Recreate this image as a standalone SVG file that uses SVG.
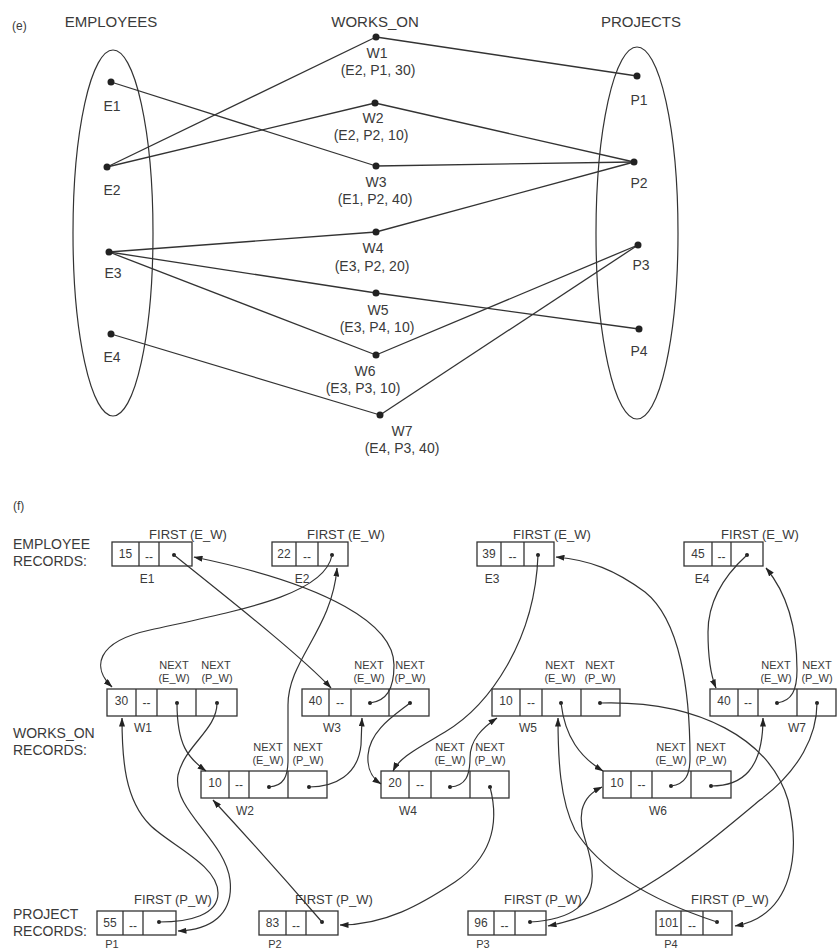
<svg xmlns="http://www.w3.org/2000/svg" width="838" height="949" viewBox="0 0 838 949">
<style>
text{font-family:"Liberation Sans",Arial,sans-serif;fill:#3a3a3a}
.h{font-size:15px}
.l{font-size:14px}
.m{font-size:13px}
.s{font-size:12px}
.x{font-size:11px}
.n{font-size:12px}
.c{text-anchor:middle}
.e{fill:none;stroke:#333;stroke-width:1.2}
.ln{stroke:#333;stroke-width:1.3;fill:none}
.dot{fill:#222}
.box{fill:#fff;stroke:#333;stroke-width:1.3}
.dv{stroke:#333;stroke-width:1.3}
.cn{fill:none;stroke:#333;stroke-width:1.2;marker-end:url(#ah)}
.pd{fill:#222}
</style>
<defs>
<marker id="ah" viewBox="0 0 9 6" refX="8.5" refY="3" markerWidth="9" markerHeight="6" markerUnits="userSpaceOnUse" orient="auto">
<path d="M0,0 L9,3 L0,6 z" fill="#222"/>
</marker>
</defs>
<rect width="838" height="949" fill="#fff"/>

<!-- Part (e) -->
<text x="12" y="30" class="s">(e)</text>
<text x="111" y="27" class="h c">EMPLOYEES</text>
<text x="375" y="27" class="h c">WORKS_ON</text>
<text x="641" y="27" class="h c">PROJECTS</text>
<ellipse cx="113" cy="233" rx="40" ry="183" class="e"/>
<ellipse cx="637" cy="233" rx="41" ry="186" class="e"/>

<g id="e-edges">
<line x1="111" y1="82" x2="376" y2="166" class="ln"/>
<line x1="107" y1="167" x2="376" y2="37" class="ln"/>
<line x1="107" y1="167" x2="375" y2="103" class="ln"/>
<line x1="109" y1="252" x2="376" y2="232" class="ln"/>
<line x1="109" y1="252" x2="376" y2="293" class="ln"/>
<line x1="109" y1="252" x2="376" y2="355" class="ln"/>
<line x1="111" y1="334" x2="380" y2="415" class="ln"/>
<line x1="376" y1="37" x2="637" y2="76" class="ln"/>
<line x1="375" y1="103" x2="634" y2="162" class="ln"/>
<line x1="376" y1="166" x2="634" y2="162" class="ln"/>
<line x1="376" y1="232" x2="634" y2="162" class="ln"/>
<line x1="376" y1="293" x2="639" y2="329" class="ln"/>
<line x1="376" y1="355" x2="638" y2="245" class="ln"/>
<line x1="380" y1="415" x2="638" y2="245" class="ln"/>
</g>

<g id="E1"><circle cx="111" cy="82" r="3.5" class="dot"/><text x="112" y="111" class="l c">E1</text></g>
<g id="E2"><circle cx="107" cy="167" r="3.5" class="dot"/><text x="112" y="195" class="l c">E2</text></g>
<g id="E3"><circle cx="109" cy="252" r="3.5" class="dot"/><text x="113" y="278" class="l c">E3</text></g>
<g id="E4"><circle cx="111" cy="334" r="3.5" class="dot"/><text x="112" y="362" class="l c">E4</text></g>

<g id="W1"><circle cx="376" cy="37" r="3.5" class="dot"/><text x="377" y="58" class="l c">W1</text><text x="378" y="75" class="l c">(E2, P1, 30)</text></g>
<g id="W2"><circle cx="375" cy="103" r="3.5" class="dot"/><text x="373" y="123" class="l c">W2</text><text x="371" y="140" class="l c">(E2, P2, 10)</text></g>
<g id="W3"><circle cx="376" cy="166" r="3.5" class="dot"/><text x="376" y="187" class="l c">W3</text><text x="375" y="204" class="l c">(E1, P2, 40)</text></g>
<g id="W4"><circle cx="376" cy="232" r="3.5" class="dot"/><text x="373" y="253" class="l c">W4</text><text x="372" y="271" class="l c">(E3, P2, 20)</text></g>
<g id="W5"><circle cx="376" cy="293" r="3.5" class="dot"/><text x="378" y="315" class="l c">W5</text><text x="377" y="332" class="l c">(E3, P4, 10)</text></g>
<g id="W6"><circle cx="376" cy="355" r="3.5" class="dot"/><text x="365" y="376" class="l c">W6</text><text x="363" y="393" class="l c">(E3, P3, 10)</text></g>
<g id="W7"><circle cx="380" cy="415" r="3.5" class="dot"/><text x="402" y="436" class="l c">W7</text><text x="402" y="453" class="l c">(E4, P3, 40)</text></g>

<g id="P1"><circle cx="637" cy="76" r="3.5" class="dot"/><text x="639" y="105" class="l c">P1</text></g>
<g id="P2"><circle cx="634" cy="162" r="3.5" class="dot"/><text x="639" y="188" class="l c">P2</text></g>
<g id="P3"><circle cx="638" cy="245" r="3.5" class="dot"/><text x="641" y="270" class="l c">P3</text></g>
<g id="P4"><circle cx="639" cy="329" r="3.5" class="dot"/><text x="639" y="356" class="l c">P4</text></g>

<!-- Part (f) -->
<text x="13" y="510" class="s">(f)</text>
<text x="13" y="549" class="l">EMPLOYEE</text>
<text x="13" y="566" class="l">RECORDS:</text>
<text x="13" y="738" class="l">WORKS_ON</text>
<text x="13" y="755" class="l">RECORDS:</text>
<text x="13" y="919" class="l">PROJECT</text>
<text x="13" y="936" class="l">RECORDS:</text>

<!-- employee records -->
<g id="rE1">
<text x="188" y="539" class="m c">FIRST (E_W)</text>
<rect x="112" y="542" width="80" height="24" class="box"/>
<line x1="139" y1="542" x2="139" y2="566" class="dv"/><line x1="159" y1="542" x2="159" y2="566" class="dv"/>
<text x="125.5" y="558" class="n c">15</text><text x="149" y="561" class="n c">--</text>
<circle cx="174" cy="555" r="2" class="pd"/>
<text x="147" y="583" class="s c">E1</text>
</g>
<g id="rE2">
<text x="346" y="539" class="m c">FIRST (E_W)</text>
<rect x="272" y="542" width="76" height="24" class="box"/>
<line x1="296" y1="542" x2="296" y2="566" class="dv"/><line x1="318" y1="542" x2="318" y2="566" class="dv"/>
<text x="284" y="558" class="n c">22</text><text x="307" y="561" class="n c">--</text>
<circle cx="332" cy="555" r="2" class="pd"/>
<text x="302" y="583" class="s c">E2</text>
</g>
<g id="rE3">
<text x="552" y="539" class="m c">FIRST (E_W)</text>
<rect x="477" y="542" width="77" height="24" class="box"/>
<line x1="501" y1="542" x2="501" y2="566" class="dv"/><line x1="524" y1="542" x2="524" y2="566" class="dv"/>
<text x="489" y="558" class="n c">39</text><text x="512.5" y="561" class="n c">--</text>
<circle cx="538" cy="555" r="2" class="pd"/>
<text x="492" y="583" class="s c">E3</text>
</g>
<g id="rE4">
<text x="760" y="539" class="m c">FIRST (E_W)</text>
<rect x="684" y="542" width="79" height="24" class="box"/>
<line x1="712" y1="542" x2="712" y2="566" class="dv"/><line x1="731" y1="542" x2="731" y2="566" class="dv"/>
<text x="698" y="558" class="n c">45</text><text x="721.5" y="561" class="n c">--</text>
<circle cx="747" cy="555" r="2" class="pd"/>
<text x="702" y="583" class="s c">E4</text>
</g>

<!-- works_on records -->
<g id="rW1">
<text x="174" y="669" class="x c">NEXT</text><text x="216" y="669" class="x c">NEXT</text>
<text x="174" y="682" class="x c">(E_W)</text><text x="217" y="682" class="x c">(P_W)</text>
<rect x="107" y="689" width="130" height="27" class="box"/>
<line x1="136" y1="689" x2="136" y2="716" class="dv"/><line x1="157" y1="689" x2="157" y2="716" class="dv"/><line x1="196" y1="689" x2="196" y2="716" class="dv"/>
<text x="121.5" y="705" class="n c">30</text><text x="146.5" y="707" class="n c">--</text>
<circle cx="177" cy="703" r="2" class="pd"/><circle cx="217" cy="703" r="2" class="pd"/>
<text x="143" y="732" class="s c">W1</text>
</g>
<g id="rW3">
<text x="369" y="669" class="x c">NEXT</text><text x="410" y="669" class="x c">NEXT</text>
<text x="369" y="682" class="x c">(E_W)</text><text x="410" y="682" class="x c">(P_W)</text>
<rect x="302" y="689" width="127" height="27" class="box"/>
<line x1="329" y1="689" x2="329" y2="716" class="dv"/><line x1="351" y1="689" x2="351" y2="716" class="dv"/><line x1="389" y1="689" x2="389" y2="716" class="dv"/>
<text x="315.5" y="705" class="n c">40</text><text x="340" y="707" class="n c">--</text>
<circle cx="370" cy="703" r="2" class="pd"/><circle cx="410" cy="703" r="2" class="pd"/>
<text x="332" y="732" class="s c">W3</text>
</g>
<g id="rW5">
<text x="560" y="669" class="x c">NEXT</text><text x="600" y="669" class="x c">NEXT</text>
<text x="560" y="682" class="x c">(E_W)</text><text x="600" y="682" class="x c">(P_W)</text>
<rect x="492" y="689" width="128" height="27" class="box"/>
<line x1="520" y1="689" x2="520" y2="716" class="dv"/><line x1="542" y1="689" x2="542" y2="716" class="dv"/><line x1="581" y1="689" x2="581" y2="716" class="dv"/>
<text x="506" y="705" class="n c">10</text><text x="531" y="707" class="n c">--</text>
<circle cx="561" cy="703" r="2" class="pd"/><circle cx="600" cy="703" r="2" class="pd"/>
<text x="528" y="732" class="s c">W5</text>
</g>
<g id="rW7">
<text x="776" y="669" class="x c">NEXT</text><text x="817" y="669" class="x c">NEXT</text>
<text x="776" y="682" class="x c">(E_W)</text><text x="817" y="682" class="x c">(P_W)</text>
<rect x="710" y="689" width="126" height="27" class="box"/>
<line x1="738" y1="689" x2="738" y2="716" class="dv"/><line x1="758" y1="689" x2="758" y2="716" class="dv"/><line x1="797" y1="689" x2="797" y2="716" class="dv"/>
<text x="724" y="705" class="n c">40</text><text x="748" y="707" class="n c">--</text>
<circle cx="777" cy="703" r="2" class="pd"/><circle cx="817" cy="703" r="2" class="pd"/>
<text x="797" y="732" class="s c">W7</text>
</g>
<g id="rW2">
<text x="268" y="751" class="x c">NEXT</text><text x="308" y="751" class="x c">NEXT</text>
<text x="268" y="764" class="x c">(E_W)</text><text x="308" y="764" class="x c">(P_W)</text>
<rect x="201" y="771" width="126" height="27" class="box"/>
<line x1="229" y1="771" x2="229" y2="798" class="dv"/><line x1="249" y1="771" x2="249" y2="798" class="dv"/><line x1="288" y1="771" x2="288" y2="798" class="dv"/>
<text x="215" y="787" class="n c">10</text><text x="239" y="789" class="n c">--</text>
<circle cx="269" cy="787" r="2" class="pd"/><circle cx="309" cy="787" r="2" class="pd"/>
<text x="245" y="815" class="s c">W2</text>
</g>
<g id="rW4">
<text x="450" y="751" class="x c">NEXT</text><text x="490" y="751" class="x c">NEXT</text>
<text x="450" y="764" class="x c">(E_W)</text><text x="490" y="764" class="x c">(P_W)</text>
<rect x="381" y="771" width="128" height="27" class="box"/>
<line x1="409" y1="771" x2="409" y2="798" class="dv"/><line x1="431" y1="771" x2="431" y2="798" class="dv"/><line x1="470" y1="771" x2="470" y2="798" class="dv"/>
<text x="395" y="787" class="n c">20</text><text x="420" y="789" class="n c">--</text>
<circle cx="450" cy="787" r="2" class="pd"/><circle cx="490" cy="787" r="2" class="pd"/>
<text x="408" y="815" class="s c">W4</text>
</g>
<g id="rW6">
<text x="671" y="751" class="x c">NEXT</text><text x="711" y="751" class="x c">NEXT</text>
<text x="671" y="764" class="x c">(E_W)</text><text x="711" y="764" class="x c">(P_W)</text>
<rect x="603" y="771" width="128" height="27" class="box"/>
<line x1="631" y1="771" x2="631" y2="798" class="dv"/><line x1="652" y1="771" x2="652" y2="798" class="dv"/><line x1="691" y1="771" x2="691" y2="798" class="dv"/>
<text x="617" y="787" class="n c">10</text><text x="641.5" y="789" class="n c">--</text>
<circle cx="671" cy="786" r="2" class="pd"/><circle cx="711" cy="786" r="2" class="pd"/>
<text x="658" y="815" class="s c">W6</text>
</g>

<!-- project records -->
<g id="rP1">
<text x="173" y="904" class="m c">FIRST (P_W)</text>
<rect x="97" y="911" width="79" height="24" class="box"/>
<line x1="123" y1="911" x2="123" y2="935" class="dv"/><line x1="143" y1="911" x2="143" y2="935" class="dv"/>
<text x="110" y="927" class="n c">55</text><text x="133" y="930" class="n c">--</text>
<circle cx="159" cy="922" r="2" class="pd"/>
<text x="112" y="948" class="x c">P1</text>
</g>
<g id="rP2">
<text x="334" y="904" class="m c">FIRST (P_W)</text>
<rect x="259" y="911" width="79" height="24" class="box"/>
<line x1="286" y1="911" x2="286" y2="935" class="dv"/><line x1="306" y1="911" x2="306" y2="935" class="dv"/>
<text x="272.5" y="927" class="n c">83</text><text x="296" y="930" class="n c">--</text>
<circle cx="322" cy="922" r="2" class="pd"/>
<text x="275" y="948" class="x c">P2</text>
</g>
<g id="rP3">
<text x="543" y="904" class="m c">FIRST (P_W)</text>
<rect x="468" y="911" width="78" height="24" class="box"/>
<line x1="494" y1="911" x2="494" y2="935" class="dv"/><line x1="515" y1="911" x2="515" y2="935" class="dv"/>
<text x="481" y="927" class="n c">96</text><text x="504.5" y="930" class="n c">--</text>
<circle cx="530" cy="922" r="2" class="pd"/>
<text x="483" y="948" class="x c">P3</text>
</g>
<g id="rP4">
<text x="730" y="904" class="m c">FIRST (P_W)</text>
<rect x="656" y="911" width="76" height="24" class="box"/>
<line x1="681" y1="911" x2="681" y2="935" class="dv"/><line x1="703" y1="911" x2="703" y2="935" class="dv"/>
<text x="668.5" y="927" class="n c">101</text><text x="692" y="930" class="n c">--</text>
<circle cx="717" cy="922" r="2" class="pd"/>
<text x="671" y="948" class="x c">P4</text>
</g>

<g id="connectors">
<path class="cn" d="M174,555 C230,600 300,655 331,688"/>
<path class="cn" d="M370,703 C386,701 394,690 394,665 C394,625 330,585 194,557"/>
<path class="cn" d="M332,555 C325,595 240,610 150,630 C95,642 92,668 112,687"/>
<path class="cn" d="M177,703 C177,745 188,758 206,771"/>
<path class="cn" d="M269,787 C284,786 288,776 288,760 L288,705 C288,660 332,630 337,568"/>
<path class="cn" d="M538,555 C535,640 490,705 445,732 C415,750 400,757 393,771"/>
<path class="cn" d="M450,787 C466,786 470,775 470,758 C470,740 482,728 497,718"/>
<path class="cn" d="M561,703 C565,737 580,757 603,771"/>
<path class="cn" d="M671,786 C686,784 690,774 690,758 C690,690 680,620 645,592 C615,570 590,560 556,557"/>
<path class="cn" d="M747,555 C725,575 708,600 708,632 C708,660 711,676 716,688"/>
<path class="cn" d="M777,703 C792,701 797,690 797,670 C797,625 786,592 766,568"/>
<path class="cn" d="M159,922 C190,922 218,915 218,893 C218,865 170,845 150,825 C125,800 122,760 122,718"/>
<path class="cn" d="M217,703 C217,730 185,745 178,775 C172,810 225,840 230,880 C234,915 210,930 178,931"/>
<path class="cn" d="M322,922 C290,885 250,840 213,800"/>
<path class="cn" d="M309,787 C335,787 358,775 361,745 L362,718"/>
<path class="cn" d="M410,703 C395,715 370,730 368,755 C367,770 372,778 381,784"/>
<path class="cn" d="M490,787 C500,825 490,858 455,882 C420,905 385,925 340,925"/>
<path class="cn" d="M530,922 C570,920 595,905 592,870 C590,845 578,830 582,810 C585,798 592,792 602,787"/>
<path class="cn" d="M711,786 C742,786 763,770 763,718"/>
<path class="cn" d="M817,703 C817,735 800,770 760,800 C700,850 630,910 548,926"/>
<path class="cn" d="M717,922 C650,900 600,870 575,830 C560,800 558,760 558,718"/>
<path class="cn" d="M600,703 C700,700 770,740 788,800 C800,850 795,915 735,926"/>
</g>
</svg>
